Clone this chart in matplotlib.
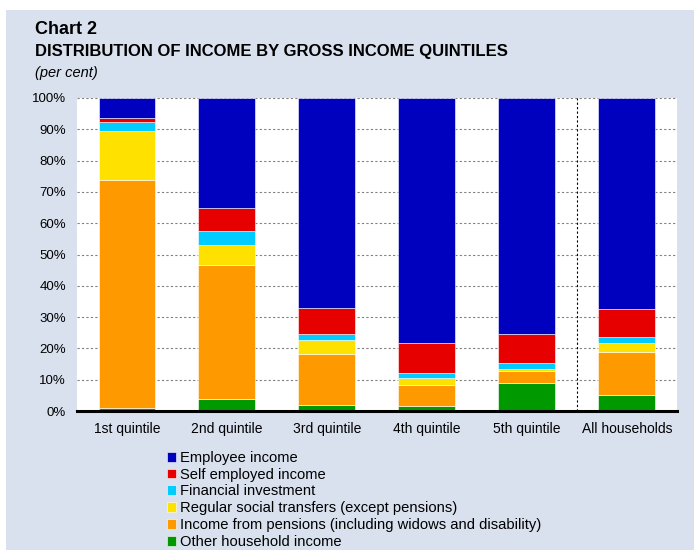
import numpy as np
import matplotlib.pyplot as plt
from matplotlib.patches import Rectangle

plt.rcParams['font.family'] = ['Liberation Sans', 'DejaVu Sans']

categories = ['1st quintile', '2nd quintile', '3rd quintile', '4th quintile', '5th quintile', 'All households']

# shares in per cent, bottom to top
other = [0.9, 3.8, 1.9, 1.6, 8.9, 5.2]
pensions = [72.9, 42.8, 16.2, 6.7, 3.9, 13.5]
social = [15.8, 6.4, 4.5, 2.1, 0.6, 3.0]
financial = [2.8, 4.6, 1.9, 1.6, 1.8, 2.1]
self_employed = [1.2, 7.1, 8.3, 9.8, 9.5, 8.8]
employee = [6.4, 35.3, 67.2, 78.2, 75.3, 67.4]

series = [
    ('Other household income', other, '#009900'),
    ('Income from pensions (including widows and disability)', pensions, '#FF9900'),
    ('Regular social transfers (except pensions)', social, '#FFE100'),
    ('Financial investment', financial, '#00CCFF'),
    ('Self employed income', self_employed, '#E60000'),
    ('Employee income', employee, '#0000BF'),
]

bg = '#D9E1EE'
fig = plt.figure(figsize=(6.94, 5.5), dpi=100)
fig.patches.append(Rectangle((6 / 694, 0), 1, 540 / 550, transform=fig.transFigure,
                             facecolor=bg, edgecolor='none', zorder=-10))

ax = fig.add_axes([77 / 694, (550 - 411) / 550, 600 / 694, 313 / 550])
ax.set_facecolor('white')

x = np.arange(len(categories))
bottom = np.zeros(len(categories))
handles = []
for label, vals, color in series:
    vals = np.array(vals)
    h = ax.bar(x, vals, 0.57, bottom=bottom, color=color, edgecolor='#ffffffaa',
               linewidth=0.6, label=label, zorder=3)
    handles.append(h)
    bottom += vals

ax.set_xlim(-0.5, len(categories) - 0.5)
ax.set_ylim(0, 100)
ax.set_yticks(np.arange(0, 101, 10))
ax.set_yticklabels([f'{v}%' for v in range(0, 101, 10)], fontsize=9.5)
ax.set_xticks(x)
ax.set_xticklabels(categories, fontsize=10)
ax.tick_params(length=0, pad=8)
ax.tick_params(axis='y', pad=8)
ax.yaxis.grid(True, color='#808080', linestyle=(0, (2, 2)), linewidth=0.8, zorder=1)
ax.axvline(4.5, color='black', linestyle=(0, (2, 2)), linewidth=0.8, zorder=2)
for s in ['left', 'right', 'top']:
    ax.spines[s].set_visible(False)
ax.spines['bottom'].set_linewidth(2.2)
ax.spines['bottom'].set_zorder(5)

fig.text(35 / 694, 1 - 34 / 550, 'Chart 2', fontsize=13, fontweight='bold')
fig.text(35 / 694, 1 - 56 / 550, 'DISTRIBUTION OF INCOME BY GROSS INCOME QUINTILES',
         fontsize=12, fontweight='bold')
fig.text(35 / 694, 1 - 77 / 550, '(per cent)', fontsize=10.5, style='italic')

leg = fig.legend(handles[::-1], [s[0] for s in series][::-1], loc='upper left',
                 bbox_to_anchor=(161 / 694, 1 - 445 / 550), frameon=False, fontsize=10.6,
                 handlelength=0.65, handleheight=0.65, handletextpad=0.25, labelspacing=0.19,
                 borderaxespad=0)

fig.savefig('out.png', dpi=100)
